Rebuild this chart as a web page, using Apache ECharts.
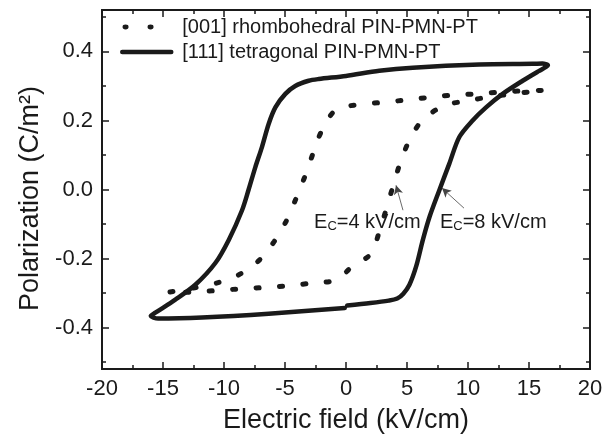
<!DOCTYPE html>
<html>
<head>
<meta charset="utf-8">
<script src="https://cdn.jsdelivr.net/npm/echarts@6/dist/echarts.min.js"></script>
<style>
  html, body { margin: 0; padding: 0; background: #fff; }
  #chart { width: 603px; height: 438px; }
</style>
</head>
<body>
<div id="chart"></div>
<script>
// [001] rhombohedral PIN-PMN-PT, loop (kV/cm, C/m2)
var rhombE = [16.0, 14.89, 12.84, 10.79, 8.88, 6.83, 4.86, 2.87, 0.96, -0.88, -2.02, -2.73, -3.39, -4.14, -4.92, -5.89, -7.03, -8.78, -10.62, -12.75, -14.58,
              -14.6, -12.7, -10.71, -8.75, -6.75, -4.75, -2.79, -0.8, 0.48, 2.03, 2.73, 3.34, 3.9, 4.47, 5.19, 6.24, 8.04, 9.97, 11.89, 13.93, 16.0];
var rhombP = [0.287, 0.286, 0.283, 0.277, 0.274, 0.267, 0.259, 0.252, 0.246, 0.229, 0.168, 0.102, 0.036, -0.03, -0.093, -0.151, -0.202, -0.247, -0.271, -0.287, -0.298,
              -0.300, -0.297, -0.293, -0.288, -0.284, -0.279, -0.271, -0.262, -0.224, -0.187, -0.122, -0.052, 0.015, 0.08, 0.142, 0.2, 0.243, 0.257, 0.269, 0.278, 0.287];

// [111] tetragonal PIN-PMN-PT
var tetraE = [0.1, 2.0, 3.5, 4.2, 4.7, 5.2, 5.75, 6.3, 6.85, 7.65, 8.47, 9.29, 10.38, 11.48, 12.84, 14.48, 15.8, 16.4, 16.55, 16.1, 15.3, 10.93, 5.47, 2.73, 0,
              -2.24, -3.06, -4.16, -4.97, -5.79, -6.34, -6.89, -7.43, -7.98, -8.52, -9.61, -10.71, -12.35, -13.99, -15.63, -16.0, -15.4, -11.8, -6.34, -0.1];
var tetraP = [-0.336, -0.329, -0.322, -0.316, -0.302, -0.276, -0.223, -0.146, -0.079, -0.002, 0.075, 0.152, 0.2, 0.238, 0.277, 0.315, 0.343, 0.355, 0.36, 0.365, 0.364, 0.362, 0.353, 0.344, 0.329,
              0.32, 0.315, 0.30, 0.277, 0.238, 0.19, 0.123, 0.065, 0, -0.06, -0.146, -0.213, -0.276, -0.319, -0.357, -0.366, -0.374, -0.371, -0.36, -0.343];

var seriesNames = ['[001] rhombohedral PIN-PMN-PT', '[111] tetragonal PIN-PMN-PT'];

// axis ticks
var yLabelValues = [-0.4, -0.2, 0.0, 0.2, 0.4];
var yMinorValues = [-0.5, -0.3, -0.1, 0.1, 0.3, 0.5];

// coercive field notes: text anchor and arrow (tail -> tip)
var ecLabels = ['4', '8'];
var ecTextAt = [[-2.62, -0.0957], [7.70, -0.0957]];
var ecArrows = [[[4.67, -0.06], [4.1, 0.012]], [[9.67, -0.054], [7.87, 0.004]]];

function zip(a, b) {
    var out = [];
    for (var i = 0; i < a.length; i++) out.push([a[i], b[i]]);
    return out;
}

var FONT = '"Liberation Sans", Arial, Helvetica, sans-serif';
var INK = '#1a1a1a';
var dotStyle = { color: INK, width: 5, type: [3, 20.5], cap: 'round' };
var solidStyle = { color: INK, width: 4.5, type: 'solid', cap: 'round', join: 'round' };

// legend icon for the dotted series: two dots in a 49 x 14 box (corner points keep the box size)
var twoDots = 'path://M0,0 L0.01,0.01 Z M49,14 L48.99,13.99 Z ' +
    'M0.3,7 Q0.3,4.6 3.3,4.6 Q6.3,4.6 6.3,7 Q6.3,9.4 3.3,9.4 Q0.3,9.4 0.3,7 Z ' +
    'M25.3,7 Q25.3,4.6 28.3,4.6 Q31.3,4.6 31.3,7 Q31.3,9.4 28.3,9.4 Q25.3,9.4 25.3,7 Z';

var chart = echarts.init(document.getElementById('chart'), null, { renderer: 'canvas' });

function xAx(pos, showLabel) {
    return {
        type: 'value', position: pos, min: -20, max: 20, interval: 5,
        axisLine: { show: true, onZero: false, lineStyle: { color: INK, width: 2 } },
        axisTick: { show: true, inside: true, length: 7, lineStyle: { color: INK, width: 1.5 } },
        minorTick: { show: true, splitNumber: 2, length: 4, lineStyle: { color: INK, width: 1.5 } },
        splitLine: { show: false },
        axisLabel: { show: showLabel, fontSize: 22, margin: 9, color: INK, fontFamily: FONT },
        name: showLabel ? 'Electric field (kV/cm)' : '',
        nameLocation: 'middle', nameGap: 38,
        nameTextStyle: { fontSize: 27, color: INK, fontFamily: FONT }
    };
}

function yAx(pos, ticks, len, showLabel) {
    return {
        type: 'value', position: pos, min: -0.52, max: 0.52,
        axisLine: { show: true, onZero: false, lineStyle: { color: INK, width: 2 } },
        axisTick: { show: true, inside: true, length: len, customValues: ticks, lineStyle: { color: INK, width: 1.5 } },
        splitLine: { show: false },
        axisLabel: {
            show: showLabel, customValues: yLabelValues, fontSize: 22, margin: 9, color: INK, fontFamily: FONT,
            formatter: function (v) { return v.toFixed(1); }
        },
        name: showLabel ? 'Polarization (C/m\u00b2)' : '',
        nameLocation: 'middle', nameGap: 58, nameRotate: 90,
        nameTextStyle: { fontSize: 27, color: INK, fontFamily: FONT, padding: [0, 18, 0, 0] }
    };
}

var option = {
    animation: false,
    backgroundColor: '#fff',
    textStyle: { fontFamily: FONT },
    grid: { left: 102, right: 13, top: 10, bottom: 69, containLabel: false, outerBoundsMode: 'none' },
    legend: {
        data: [
            { name: seriesNames[0], icon: twoDots, itemStyle: { color: INK, opacity: 1, borderWidth: 0, borderColor: 'rgba(0,0,0,0)' } },
            { name: seriesNames[1], itemStyle: { opacity: 0 }, lineStyle: solidStyle }
        ],
        orient: 'vertical',
        left: 120, top: 17, padding: 0,
        itemWidth: 49, itemHeight: 14, itemGap: 5,
        textStyle: { fontSize: 20, color: INK, fontFamily: FONT, padding: [0, 0, 0, 6] }
    },
    xAxis: [xAx('bottom', true), xAx('top', false)],
    yAxis: [
        yAx('left', yLabelValues, 7, true),
        yAx('right', yLabelValues, 7, false),
        yAx('left', yMinorValues, 4, false),
        yAx('right', yMinorValues, 4, false)
    ],
    series: [
        {
            name: seriesNames[0], type: 'line', data: zip(rhombE, rhombP),
            symbol: 'none', smooth: 0.3, silent: true,
            itemStyle: { color: INK },
            lineStyle: dotStyle
        },
        {
            name: seriesNames[1], type: 'line', data: zip(tetraE, tetraP),
            symbol: 'none', smooth: 0.3, silent: true,
            itemStyle: { color: INK },
            lineStyle: solidStyle,
            markLine: {
                silent: true, animation: false,
                symbol: ['none', 'arrow'], symbolSize: [7, 9],
                lineStyle: { color: '#444', width: 0.8, type: 'solid' },
                label: { show: false },
                data: ecArrows.map(function (a) { return [{ coord: a[0] }, { coord: a[1] }]; })
            },
            markPoint: {
                silent: true, symbol: 'circle', symbolSize: 0,
                label: {
                    show: true, position: 'right', distance: 0, color: INK,
                    formatter: function (p) { return '{e|E}{s|C}{e|=' + p.name + ' kV/cm}'; },
                    rich: {
                        e: { fontSize: 20, lineHeight: 20, verticalAlign: 'top', color: INK, fontFamily: FONT },
                        s: { fontSize: 13, lineHeight: 13, verticalAlign: 'bottom', padding: [15, 0, 0, 0], color: INK, fontFamily: FONT }
                    }
                },
                data: ecLabels.map(function (v, i) { return { name: v, coord: ecTextAt[i] }; })
            }
        }
    ]
};

chart.setOption(option);
</script>
</body>
</html>
